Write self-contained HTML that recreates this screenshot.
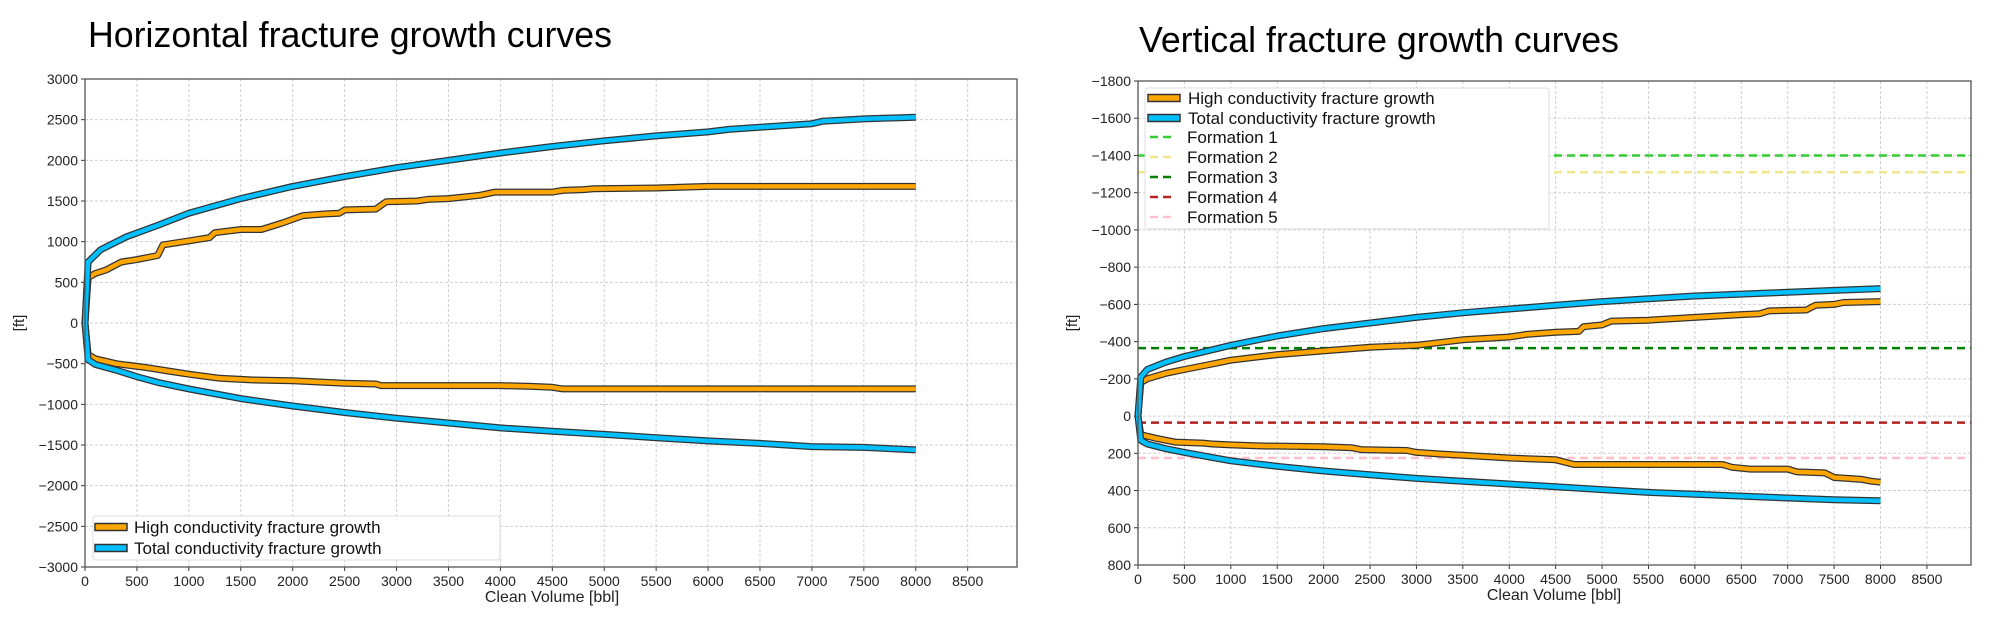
<!DOCTYPE html>
<html><head><meta charset="utf-8"><style>
html,body{margin:0;padding:0;background:#fff;}
svg{display:block;font-family:"Liberation Sans","DejaVu Sans",sans-serif;}
</style></head><body>
<svg id="svg" width="2000" height="623" viewBox="0 0 2000 623" xmlns="http://www.w3.org/2000/svg">
<text x="88" y="47" font-size="36" textLength="524" lengthAdjust="spacingAndGlyphs" fill="#000">Horizontal fracture growth curves</text>
<text x="1139" y="52" font-size="36" textLength="480" lengthAdjust="spacingAndGlyphs" fill="#000">Vertical fracture growth curves</text>
<g id="left"></g>
<g id="right"></g>
</svg>
<script>
// ---- Horizontal chart data ----
const hTotalUpX=[0,30,150,400,700,1000,1500,2000,2500,3000,3500,4000,4500,5000,5500,6000,6200,7000,7100,7500,8000];
const hTotalUpY=[0,750,900,1060,1200,1350,1530,1680,1800,1910,2000,2090,2170,2240,2300,2350,2380,2450,2480,2510,2530];
const hHighUpX=[0,30,100,200,350,500,700,750,1000,1200,1250,1500,1700,1900,2100,2300,2450,2500,2800,2900,3200,3300,3500,3800,3950,4500,4600,4800,4900,5500,6000,8000];
const hHighUpY=[0,560,610,650,750,780,830,960,1010,1050,1110,1150,1150,1230,1320,1340,1350,1390,1400,1490,1500,1520,1530,1570,1610,1610,1630,1640,1650,1660,1680,1680];
const hHighLoX=[0,30,100,300,600,800,1000,1300,1600,2000,2500,2800,2850,4000,4300,4500,4600,8000];
const hHighLoY=[0,-390,-440,-500,-550,-590,-630,-680,-700,-710,-740,-750,-770,-770,-780,-790,-810,-810];
const hTotalLoX=[0,30,100,300,500,700,1000,1500,2000,2500,3000,3500,4000,4500,5000,5500,6000,6500,7000,7500,8000];
const hTotalLoY=[0,-450,-510,-580,-660,-730,-810,-930,-1020,-1100,-1170,-1230,-1290,-1330,-1370,-1410,-1450,-1480,-1520,-1530,-1560];
const hYTicks=[3000,2500,2000,1500,1000,500,0,-500,-1000,-1500,-2000,-2500,-3000];
// ---- Vertical chart data ----
const vTotalUpX=[0,30,100,300,500,1000,1500,2000,2500,3000,3500,4000,4500,5000,5500,6000,6500,7000,7500,8000];
const vTotalUpY=[0,-210,-250,-290,-320,-380,-430,-470,-500,-530,-555,-575,-595,-615,-630,-645,-655,-665,-675,-685];
const vHighUpX=[0,30,100,300,500,800,1000,1500,2000,2500,3000,3500,4000,4200,4500,4750,4800,5000,5100,5500,6000,6500,6700,6800,7200,7300,7500,7600,8000];
const vHighUpY=[0,-180,-200,-230,-250,-280,-300,-330,-350,-370,-380,-410,-425,-440,-450,-455,-480,-490,-510,-515,-530,-545,-550,-565,-570,-595,-600,-610,-615];
const vHighLoX=[0,30,200,400,700,800,1000,1300,2000,2300,2400,2900,3000,3300,3500,4000,4500,4700,6300,6400,6600,7000,7100,7400,7500,7800,7900,8000];
const vHighLoY=[0,100,120,140,145,150,155,160,165,170,180,185,195,205,210,225,235,260,260,275,285,285,300,305,330,340,350,355];
const vTotalLoX=[0,30,100,300,500,1000,1500,2000,2500,3000,3500,4000,4500,5000,5500,6000,6500,7000,7500,8000];
const vTotalLoY=[0,130,150,175,195,240,270,295,315,335,350,365,380,395,410,420,430,440,450,455];
const vYTicks=[-1800,-1600,-1400,-1200,-1000,-800,-600,-400,-200,0,200,400,600,800];
const formNames=["Formation 1","Formation 2","Formation 3","Formation 4","Formation 5"];
const formDepths=[-1400,-1310,-365,35,225];
const formColors=["#33cc33","#f0e68c","#008000","#b22222","#ffc0cb"];
const xTicks=[0,500,1000,1500,2000,2500,3000,3500,4000,4500,5000,5500,6000,6500,7000,7500,8000,8500];

const NS="http://www.w3.org/2000/svg";
function mk(parent,tag,attrs){const e=document.createElementNS(NS,tag);for(const k in attrs)e.setAttribute(k,attrs[k]);parent.appendChild(e);return e;}
function fmt(v){return v<0?"\u2212"+(-v):String(v);}

function chart(g,L,R,T,B,xmax,ymin,ymax,yTicks){
  const sx=v=>L+(v/xmax)*(R-L);
  const sy=v=>T+(v-ymin)/(ymax-ymin)*(B-T);
  for(const t of xTicks){
    const l=mk(g,'line',{x1:sx(t),x2:sx(t),y1:T,y2:B,stroke:'#cfcfcf','stroke-width':1,'stroke-dasharray':'3,2'});
    
    
    mk(g,'line',{x1:sx(t),x2:sx(t),y1:B,y2:B+4,stroke:'#333'});
    const tx=mk(g,'text',{x:sx(t),y:B+19,'font-size':14,'text-anchor':'middle',fill:'#222'});
    tx.textContent=fmt(t);
    
    
  }
  for(const t of yTicks){
    const l=mk(g,'line',{x1:L,x2:R,y1:sy(t),y2:sy(t),stroke:'#cfcfcf','stroke-width':1,'stroke-dasharray':'3,2'});
    
    
    mk(g,'line',{x1:L-4,x2:L,y1:sy(t),y2:sy(t),stroke:'#333'});
    const tx=mk(g,'text',{x:L-7,y:sy(t)+5,'font-size':14,'text-anchor':'end',fill:'#222'});
    tx.textContent=fmt(t);
    
    
  }
  return {sx,sy};
}
function drawLine(g,sx,sy,xs,ys,color,name){
  const d=xs.map((x,i)=>(i?'L':'M')+sx(x).toFixed(1)+','+sy(ys[i]).toFixed(1)).join('');
  const o=mk(g,'path',{d,fill:'none',stroke:'#333','stroke-width':7,'stroke-linejoin':'round'});
  
  
  const p=mk(g,'path',{d,fill:'none',stroke:color,'stroke-width':4.5,'stroke-linejoin':'round'});
  
  
}
function frame(g,L,R,T,B){
  const f=mk(g,'rect',{x:L,y:T,width:R-L,height:B-T,fill:'none',stroke:'#555','stroke-width':1.3});
  
  
}
function legendSwatch(g,x,y,color){
  mk(g,'rect',{x:x,y:y-3.5,width:32,height:7,fill:color,stroke:'#333','stroke-width':1.5});
}
function axisLabels(g,cx,by,lx,cy){
  const xl=mk(g,'text',{x:cx,y:by,'font-size':16,'text-anchor':'middle',fill:'#222'});
  xl.textContent='Clean Volume [bbl]';
  
  
  const yl=mk(g,'text',{x:lx,y:cy,'font-size':15,'text-anchor':'middle',fill:'#222',transform:`rotate(-90 ${lx} ${cy})`});
  yl.textContent='[ft]';
  
  
}
function legendText(g,x,y,s,name){
  const t=mk(g,'text',{x:x,y:y,'font-size':17,fill:'#111'});
  t.textContent=s;
  
  
}

// Left chart
{
  const g=document.getElementById('left');
  const L=85,R=1017,T=79,B=567;
  const {sx,sy}=chart(g,L,R,T,B,8975,3000,-3000,hYTicks);
  drawLine(g,sx,sy,hHighLoX,hHighLoY,'#ffa500','high-lower-line');
  drawLine(g,sx,sy,hTotalLoX,hTotalLoY,'#00bfff','total-lower-line');
  drawLine(g,sx,sy,hHighUpX,hHighUpY,'#ffa500','high-upper-line');
  drawLine(g,sx,sy,hTotalUpX,hTotalUpY,'#00bfff','total-upper-line');
  frame(g,L,R,T,B);
  const lg=mk(g,'g',{});
  
  
  mk(lg,'rect',{x:93,y:516,width:407,height:44,fill:'#fff',stroke:'#ddd',rx:3});
  legendSwatch(lg,95,527,'#ffa500');
  legendText(lg,134,533,'High conductivity fracture growth','legend-entry-high');
  legendSwatch(lg,95,548,'#00bfff');
  legendText(lg,134,554,'Total conductivity fracture growth','legend-entry-total');
  axisLabels(g,552,602,24,323);
}
// Right chart
{
  const g=document.getElementById('right');
  const L=1138,R=1971,T=81,B=565;
  const {sx,sy}=chart(g,L,R,T,B,8975,-1800,800,vYTicks);
  formDepths.forEach((d,i)=>{
    const l=mk(g,'line',{x1:L,x2:R,y1:sy(d),y2:sy(d),stroke:formColors[i],'stroke-width':2.5,'stroke-dasharray':'8,5'});
    
    
  });
  drawLine(g,sx,sy,vHighLoX,vHighLoY,'#ffa500','high-lower-line');
  drawLine(g,sx,sy,vTotalLoX,vTotalLoY,'#00bfff','total-lower-line');
  drawLine(g,sx,sy,vHighUpX,vHighUpY,'#ffa500','high-upper-line');
  drawLine(g,sx,sy,vTotalUpX,vTotalUpY,'#00bfff','total-upper-line');
  frame(g,L,R,T,B);
  const lg=mk(g,'g',{});
  
  
  mk(lg,'rect',{x:1145,y:88,width:404,height:141,fill:'#fff',stroke:'#ddd',rx:3});
  legendSwatch(lg,1148,98,'#ffa500');
  legendText(lg,1188,104,'High conductivity fracture growth','legend-entry-high');
  legendSwatch(lg,1148,118,'#00bfff');
  legendText(lg,1188,124,'Total conductivity fracture growth','legend-entry-total');
  formNames.forEach((n,i)=>{
    const y=137+i*20;
    mk(lg,'line',{x1:1150,x2:1174,y1:y,y2:y,stroke:formColors[i],'stroke-width':2.5,'stroke-dasharray':'8,5'});
    legendText(lg,1187,y+6,n,'legend-entry-formation-'+(i+1));
  });
  axisLabels(g,1554,600,1077,323);
}
</script>
</body></html>
